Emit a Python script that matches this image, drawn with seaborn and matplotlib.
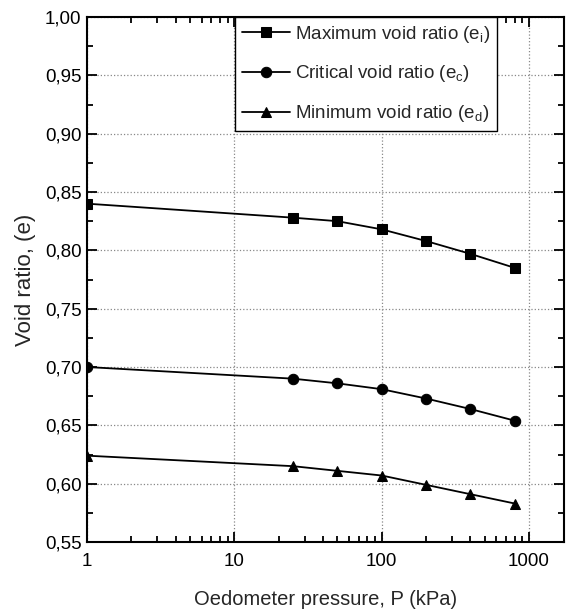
import numpy as np
import pandas as pd
import matplotlib
matplotlib.use("Agg")
import matplotlib.pyplot as plt
import matplotlib.ticker as mticker
import seaborn as sns

pressure = [1, 25, 50, 100, 200, 400, 800]
e_max = [0.840, 0.828, 0.825, 0.818, 0.808, 0.797, 0.785]
e_crit = [0.700, 0.690, 0.686, 0.681, 0.673, 0.664, 0.654]
e_min = [0.624, 0.615, 0.611, 0.607, 0.599, 0.591, 0.583]
series_names = ["Maximum void ratio (e$_\\mathregular{i}$)",
                "Critical void ratio (e$_\\mathregular{c}$)",
                "Minimum void ratio (e$_\\mathregular{d}$)"]
y_ticks = [0.55, 0.60, 0.65, 0.70, 0.75, 0.80, 0.85, 0.90, 0.95, 1.00]
x_ticks = [1, 10, 100, 1000]

df = pd.concat([
    pd.DataFrame({"P": pressure, "e": vals, "series": name})
    for name, vals in zip(series_names, [e_max, e_crit, e_min])
], ignore_index=True)

sns.set_style("ticks")
plt.rcParams['font.family'] = ['Liberation Sans', 'DejaVu Sans']
plt.rcParams['mathtext.fontset'] = 'custom'
plt.rcParams['mathtext.rm'] = 'Liberation Sans'

fig = plt.figure(figsize=(5.66, 6.09), dpi=100)
ax = fig.add_axes([87/566, 1 - 542/609, 477/566, 525/609])

markers = {series_names[0]: "s", series_names[1]: "o", series_names[2]: "^"}
sns.lineplot(data=df, x="P", y="e", hue="series", style="series",
             markers=markers, dashes=False, palette=["black"] * 3,
             markersize=7.5, linewidth=1.3, markeredgecolor="black", ax=ax)

ax.set_xscale("log")
ax.set_xlim(1, 1730)
ax.set_ylim(0.55, 1.00)
ax.set_xticks(x_ticks)
ax.xaxis.set_major_formatter(mticker.FuncFormatter(lambda v, p: f"{int(round(v))}"))
ax.xaxis.set_minor_locator(mticker.LogLocator(base=10, subs=np.arange(2, 10)))
ax.xaxis.set_minor_formatter(mticker.NullFormatter())
ax.set_yticks(y_ticks)
ax.yaxis.set_minor_locator(mticker.MultipleLocator(0.025))
ax.yaxis.set_major_formatter(mticker.FuncFormatter(lambda v, p: f"{v:.2f}".replace(".", ",")))

ax.tick_params(which="both", direction="in", top=True, right=True, labelsize=13.5, width=1.3, colors="black")
ax.tick_params(which="major", length=7)
ax.tick_params(which="minor", length=4)
ax.tick_params(axis="x", pad=8)
ax.tick_params(axis="y", pad=4)

for s in ax.spines.values():
    s.set_linewidth(1.5)
    s.set_color("black")

ax.grid(True, which="major", linestyle=":", color="#888888", linewidth=0.9)

ax.set_xlabel("Oedometer pressure, P (kPa)", fontsize=14.5, labelpad=14)
ax.set_ylabel("Void ratio, (e)", fontsize=16, labelpad=6)

leg = ax.legend(loc="upper left", bbox_to_anchor=(148/477, 1.0), fontsize=13.5,
                frameon=True, fancybox=False, edgecolor="black", framealpha=1,
                handlelength=2.6, handletextpad=0.25, borderpad=0.35,
                labelspacing=1.0, borderaxespad=0)
leg.get_frame().set_linewidth(1.0)
leg.set_title(None)

fig.savefig("out.png", dpi=100)
